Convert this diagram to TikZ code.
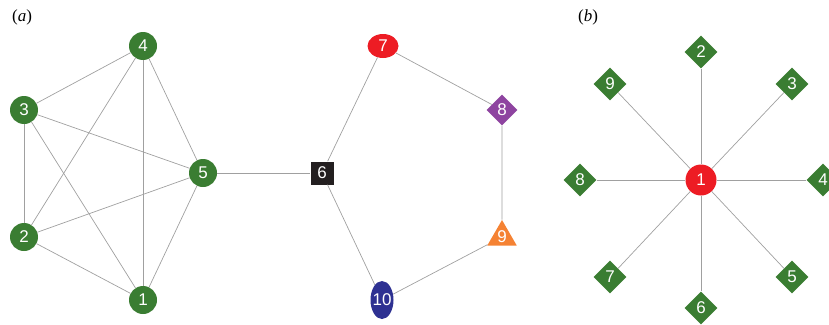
\documentclass[tikz,border=0pt]{standalone}
\usepackage{fontspec}
\setmainfont{Liberation Serif}
\newfontfamily\nodefont{Liberation Sans}
\usetikzlibrary{shapes.geometric}
\definecolor{ngreen}{HTML}{3A7D32}
\definecolor{nred}{HTML}{ED1C24}
\definecolor{npurple}{HTML}{8E44A0}
\definecolor{norange}{HTML}{F58233}
\definecolor{nblue}{HTML}{2E3192}
\definecolor{nblack}{HTML}{231F20}
\definecolor{edgegray}{HTML}{A0A0A0}
\tikzset{
  vtx/.style={inner sep=0pt, text=white, font=\nodefont\fontsize{17}{17}\selectfont},
  gcirc/.style={vtx, circle, fill=ngreen, minimum size=28pt},
  gdiam/.style={vtx, diamond, fill=ngreen, minimum width=33pt, minimum height=33pt},
  link/.style={draw=edgegray, line width=0.7pt},
  panel/.style={font=\fontsize{17}{17}\selectfont}
}
\begin{document}
\begin{tikzpicture}[x=1pt,y=-1pt]
\useasboundingbox (0,0) rectangle (829,324);
% panel labels
\node[panel] (la) at (22,17) {(\textit{a})};
\node[panel] (lb) at (588,17) {(\textit{b})};
% panel (a)
\node[gcirc] (a1) at (143,300) {1};
\node[gcirc] (a2) at (24,237) {2};
\node[gcirc] (a3) at (24,110) {3};
\node[gcirc] (a4) at (143,46) {4};
\node[gcirc] (a5) at (203,173) {5};
\node[vtx, rectangle, fill=nblack, minimum size=23pt] (a6) at (322,173) {6};
\node[vtx, ellipse, fill=nred, minimum width=31pt, minimum height=24pt] (a7) at (383,46) {7};
\node[vtx, diamond, fill=npurple, minimum width=31pt, minimum height=31pt] (a8) at (502,110) {8};
\node[vtx, regular polygon, regular polygon sides=3, fill=norange, minimum size=34pt] (a9) at (502,237) {9};
\node[vtx, ellipse, fill=nblue, minimum width=23pt, minimum height=38pt] (a10) at (382,300) {\makebox[0pt]{10}};
% edges (a)
\foreach \u/\v in {a1/a2,a1/a3,a1/a4,a1/a5,a2/a3,a2/a4,a2/a5,a3/a4,a3/a5,a4/a5,a5/a6,a6/a7,a7/a8,a8/a9,a9/a10,a10/a6}
  \draw[link] (\u) -- (\v);
% panel (b)
\node[vtx, circle, fill=nred, minimum size=31pt] (b1) at (701,180) {1};
\node[gdiam] (b2) at (701,52) {2};
\node[gdiam] (b3) at (792,84) {3};
\node[gdiam] (b4) at (823,180) {4};
\node[gdiam] (b5) at (792,277) {5};
\node[gdiam] (b6) at (701,308) {6};
\node[gdiam] (b7) at (610,277) {7};
\node[gdiam] (b8) at (580,180) {8};
\node[gdiam] (b9) at (610,84) {9};
\foreach \v in {b2,b3,b4,b5,b6,b7,b8,b9}
  \draw[link] (b1) -- (\v);
\end{tikzpicture}
\end{document}
